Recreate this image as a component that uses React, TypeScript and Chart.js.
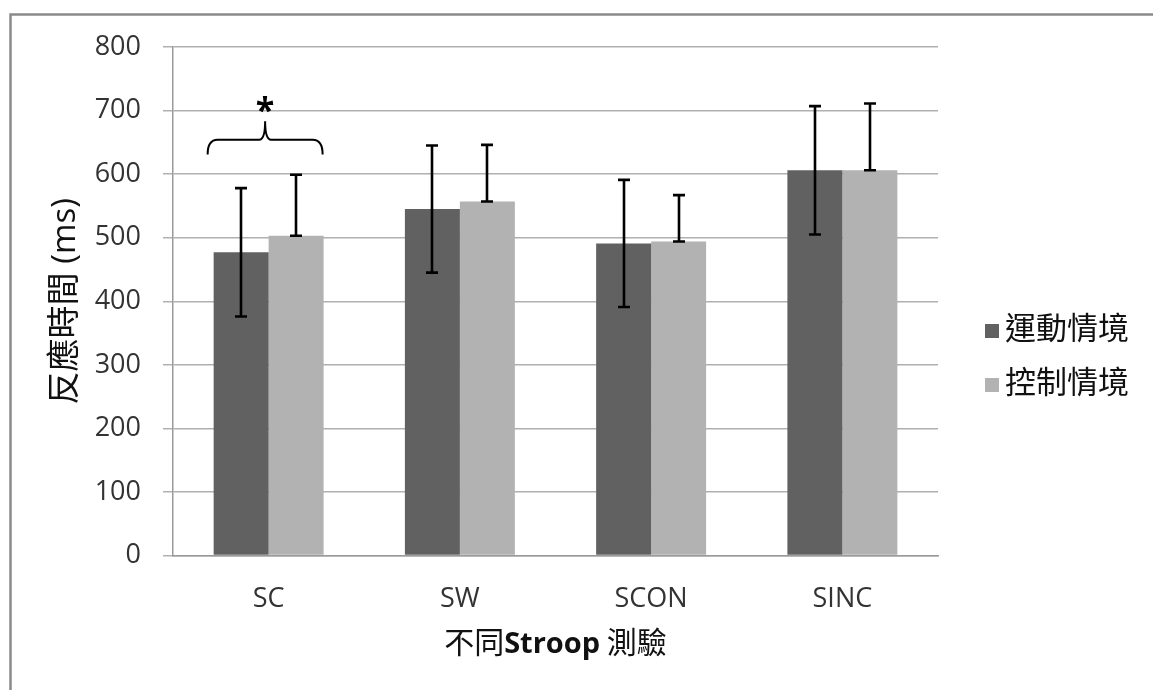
import { useEffect, useRef } from 'react';
import { Chart, registerables } from 'chart.js';

Chart.register(...registerables);

// Stroop test categories and the two conditions (mean ± SD, ms)
const categories = ['SC', 'SW', 'SCON', 'SINC'];
const seriesNames = ['運動情境', '控制情境'];
const exerciseMeans = [477, 545, 491, 606];
const exerciseSD = [101, 100, 100, 101];
const controlMeans = [503, 557, 494, 606];
const controlSD = [96, 89, 73, 105];
const yTickValues = [0, 100, 200, 300, 400, 500, 600, 700, 800];

const yTitle = '反應時間 (ms)';
const xTitleParts = [
  { text: '不同', bold: false },
  { text: 'Stroop', bold: true },
  { text: ' 測驗', bold: false },
];
const significanceMark = '*';

const LATIN = "'Open Sans', 'Noto Sans CJK TC', sans-serif";
const CJK = "'Noto Sans CJK TC', 'Open Sans', sans-serif";

// Error bars: dark series both directions, light series upward only
const errorBarsPlugin = {
  id: 'errorBars',
  afterDatasetsDraw(chart: any) {
    const { ctx } = chart;
    const y = chart.scales.y;
    ctx.save();
    ctx.strokeStyle = '#000';
    ctx.lineWidth = 2.6;
    chart.data.datasets.forEach((ds: any, di: number) => {
      const meta = chart.getDatasetMeta(di);
      meta.data.forEach((bar: any, i: number) => {
        const v = ds.data[i];
        const sd = ds.errors[i];
        const top = y.getPixelForValue(v + sd);
        const bottom = y.getPixelForValue(ds.errorMode === 'both' ? v - sd : v);
        const x = Math.round(bar.x);
        ctx.beginPath();
        ctx.moveTo(x, top);
        ctx.lineTo(x, bottom);
        ctx.moveTo(x - 6, top);
        ctx.lineTo(x + 6, top);
        ctx.moveTo(x - 6, bottom);
        ctx.lineTo(x + 6, bottom);
        ctx.stroke();
      });
    });
    ctx.restore();
  },
};

// Curly bracket with significance star over the first group
const bracketPlugin = {
  id: 'bracket',
  afterDatasetsDraw(chart: any) {
    const { ctx } = chart;
    const y = chart.scales.y;
    const d = chart.getDatasetMeta(0).data[0];
    const l = chart.getDatasetMeta(1).data[0];
    if (!d || !l) return;
    const xl = d.x - d.width / 2 - 6;
    const xr = l.x + l.width / 2 - 1;
    const xm = (xl + xr) / 2;
    const yEnd = y.getPixelForValue(631);
    const yLine = y.getPixelForValue(654);
    const yCusp = y.getPixelForValue(683);
    const yStar = y.getPixelForValue(709);
    const r = 10;
    ctx.save();
    ctx.strokeStyle = '#000';
    ctx.lineWidth = 2;
    ctx.beginPath();
    ctx.moveTo(xl, yEnd);
    ctx.quadraticCurveTo(xl, yLine, xl + r, yLine);
    ctx.lineTo(xm - 6, yLine);
    ctx.quadraticCurveTo(xm, yLine, xm, yCusp);
    ctx.quadraticCurveTo(xm, yLine, xm + 6, yLine);
    ctx.lineTo(xr - r, yLine);
    ctx.quadraticCurveTo(xr, yLine, xr, yEnd);
    ctx.stroke();

    ctx.fillStyle = '#000';
    ctx.font = `bold 34px ${LATIN}`;
    ctx.textAlign = 'center';
    ctx.textBaseline = 'alphabetic';
    const m = ctx.measureText(significanceMark);
    const base = yStar + (m.actualBoundingBoxAscent - m.actualBoundingBoxDescent) / 2;
    ctx.fillText(significanceMark, xm, base);
    ctx.restore();
  },
};

// Legend on the right, frame, and x-axis title with mixed weights
const decorPlugin = {
  id: 'decor',
  afterDraw(chart: any) {
    const { ctx, chartArea } = chart;
    ctx.save();

    // outer frame (top and left edges visible)
    ctx.strokeStyle = '#8a8a8a';
    ctx.lineWidth = 2.5;
    ctx.beginPath();
    ctx.moveTo(10.5, 2000);
    ctx.lineTo(10.5, 14.5);
    ctx.lineTo(2000, 14.5);
    ctx.stroke();

    // legend
    const rows = [331, 385];
    chart.data.datasets.forEach((ds: any, i: number) => {
      const cy = rows[i];
      ctx.fillStyle = ds.backgroundColor;
      ctx.fillRect(985, cy - 7, 14, 14);
      ctx.fillStyle = '#111';
      ctx.font = `31px ${CJK}`;
      ctx.textAlign = 'left';
      ctx.textBaseline = 'middle';
      ctx.fillText(ds.label, 1005, cy - 4);
    });

    // x-axis title
    const parts = xTitleParts.map((p) => ({
      ...p,
      font: p.bold ? `bold 29px ${LATIN}` : `30px ${CJK}`,
    }));
    let total = 0;
    const widths = parts.map((p) => {
      ctx.font = p.font;
      const w = ctx.measureText(p.text).width;
      total += w;
      return w;
    });
    let x = (chartArea.left + chartArea.right) / 2 - total / 2;
    ctx.fillStyle = '#111';
    ctx.textAlign = 'left';
    ctx.textBaseline = 'alphabetic';
    parts.forEach((p, i) => {
      ctx.font = p.font;
      ctx.fillText(p.text, x, 653);
      x += widths[i];
    });
    ctx.restore();
  },
};

export default function App() {
  const canvasRef = useRef<HTMLCanvasElement | null>(null);

  useEffect(() => {
    if (!canvasRef.current) return;
    const tickFont = { family: LATIN, size: 27 };
    const chart = new Chart(canvasRef.current, {
      type: 'bar',
      data: {
        labels: categories,
        datasets: [
          {
            label: seriesNames[0],
            data: exerciseMeans,
            backgroundColor: '#616161',
            borderWidth: 0,
            categoryPercentage: 0.575,
            barPercentage: 1,
            errors: exerciseSD,
            errorMode: 'both',
          } as any,
          {
            label: seriesNames[1],
            data: controlMeans,
            backgroundColor: '#b2b2b2',
            borderWidth: 0,
            categoryPercentage: 0.575,
            barPercentage: 1,
            errors: controlSD,
            errorMode: 'plus',
          } as any,
        ],
      },
      options: {
        responsive: true,
        maintainAspectRatio: false,
        animation: false,
        layout: { padding: { top: 47, right: 215, bottom: 0, left: 0 } },
        plugins: {
          legend: { display: false },
          tooltip: { enabled: false },
        },
        scales: {
          x: {
            grid: { display: false },
            border: { display: true, color: '#9a9a9a', width: 1.5 },
            ticks: { font: tickFont, color: '#333', padding: 20, maxRotation: 0 },
            afterFit: (s: any) => {
              s.height = 134.5;
            },
          },
          y: {
            min: 0,
            max: 800,
            afterBuildTicks: (s: any) => {
              s.ticks = yTickValues.map((v) => ({ value: v }));
            },
            ticks: { font: tickFont, color: '#333', padding: 22 },
            grid: { color: '#b0b0b0', lineWidth: 1.5, tickLength: 10 },
            border: { color: '#9a9a9a', width: 1.5 },
            title: {
              display: true,
              text: yTitle,
              font: { family: LATIN, size: 33 },
              color: '#111',
              padding: { top: 46, bottom: 0 },
            },
            afterFit: (s: any) => {
              s.width = 173;
            },
          },
        },
      } as any,
      plugins: [errorBarsPlugin, bracketPlugin, decorPlugin],
    });
    return () => chart.destroy();
  }, []);

  return (
    <div
      style={{
        position: 'fixed',
        left: 0,
        top: 0,
        width: 1153,
        height: 690,
        background: '#fff',
      }}
    >
      <canvas ref={canvasRef} />
    </div>
  );
}
